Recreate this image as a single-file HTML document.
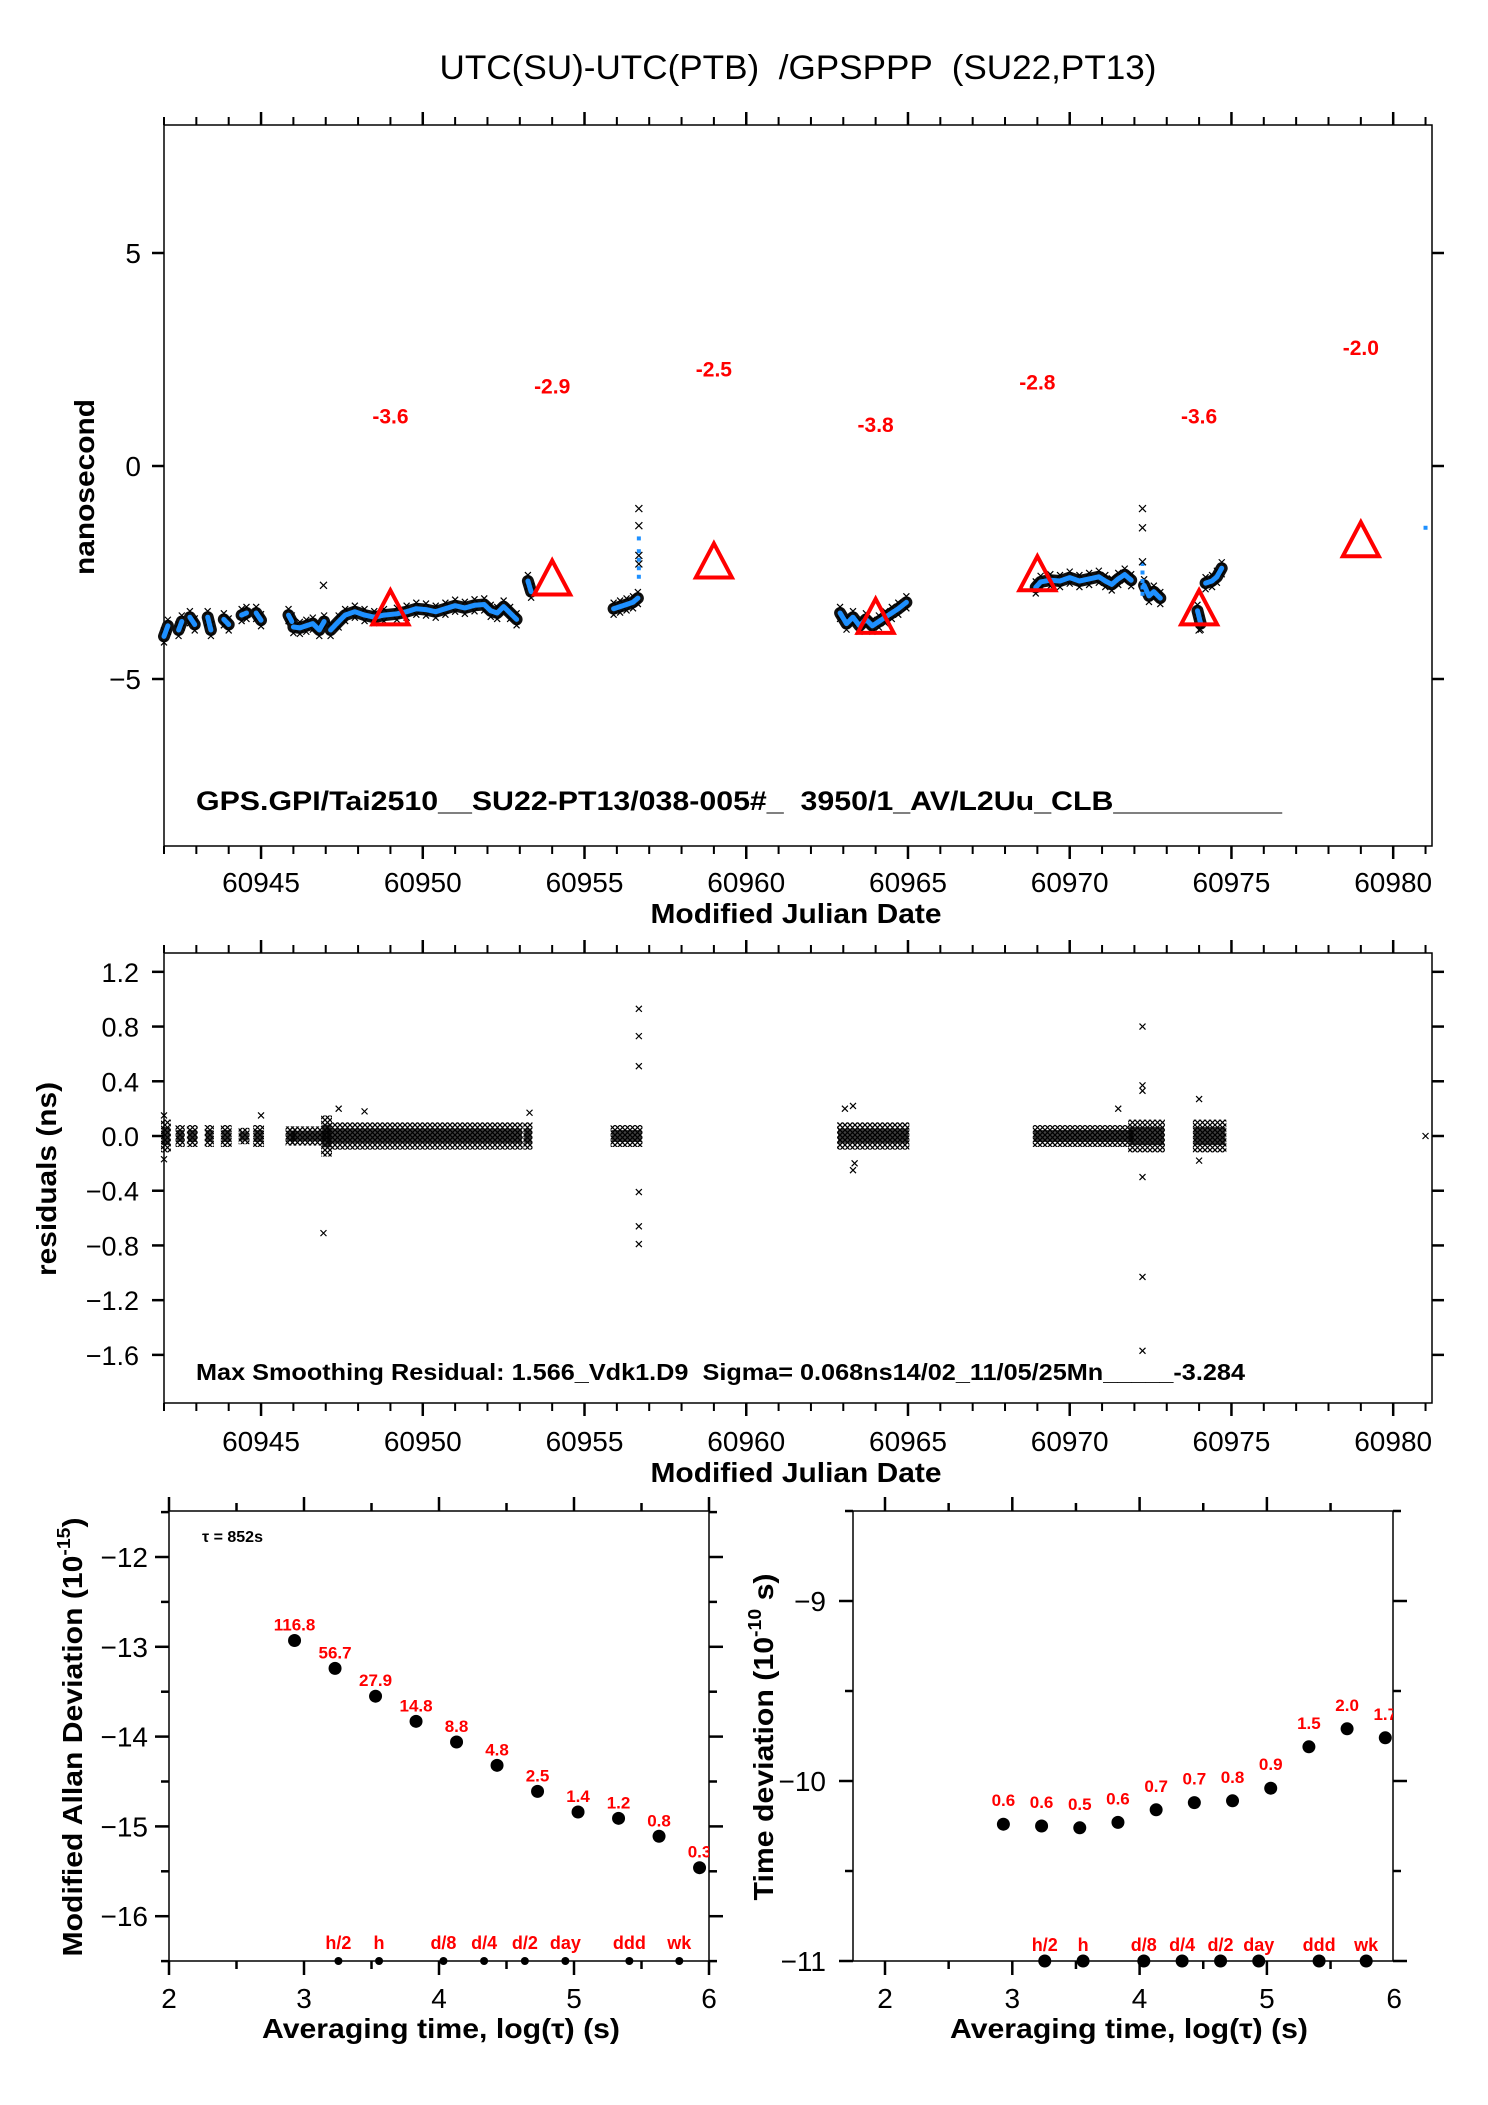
<!DOCTYPE html>
<html><head><meta charset="utf-8"><title>UTC(SU)-UTC(PTB) GPSPPP</title>
<style>
html,body{margin:0;padding:0;background:#fff;}
svg{display:block;font-family:"Liberation Sans",Arial,sans-serif;}
text{white-space:pre;}
</style></head>
<body>
<svg id="fig" width="1488" height="2105" viewBox="0 0 1488 2105" xmlns="http://www.w3.org/2000/svg">
<defs id="defs">
<pattern id="xpat" width="5" height="5" patternUnits="userSpaceOnUse">
<path d="M0,0L5,5M5,0L0,5" stroke="#000" stroke-width="1.3"/>
</pattern>
</defs>
<text x="798" y="79" font-size="34" text-anchor="middle" textLength="717" lengthAdjust="spacingAndGlyphs">UTC(SU)-UTC(PTB)  /GPSPPP  (SU22,PT13)</text>
<g id="topPanel"></g>
<g id="midPanel"></g>
<g id="adevPanel"></g>
<g id="tdevPanel"></g>
</svg>
<script>
// ---------- data ----------
const triMjd = [60949, 60954, 60959, 60964, 60969, 60974, 60979];
const triVal = [-3.6, -2.9, -2.5, -3.8, -2.8, -3.6, -2.0];
const triLabels = ["-3.6", "-2.9", "-2.5", "-3.8", "-2.8", "-3.6", "-2.0"];

const segMjd = [
 [60942.0, 60942.12],
 [60942.45, 60942.55],
 [60942.8, 60942.95],
 [60943.35, 60943.45],
 [60943.85, 60944.0],
 [60944.4, 60944.55],
 [60944.85, 60945.0],
 [60945.85, 60945.95],
 [60946.0, 60946.2, 60946.4, 60946.6, 60946.8, 60946.95],
 [60947.15, 60947.4, 60947.6, 60947.9, 60948.2, 60948.5, 60948.8, 60949.2, 60949.5, 60949.8, 60950.1, 60950.4, 60950.7, 60951.0, 60951.3, 60951.6, 60951.9, 60952.1, 60952.3, 60952.5, 60952.7, 60952.9],
 [60953.25, 60953.35],
 [60955.9, 60956.1, 60956.3, 60956.5, 60956.65],
 [60962.9, 60963.1, 60963.3, 60963.5, 60963.7, 60963.9, 60964.1, 60964.3, 60964.5, 60964.7, 60964.95],
 [60968.95, 60969.1, 60969.4, 60969.7, 60970.0, 60970.3, 60970.6, 60970.9, 60971.1, 60971.3, 60971.5, 60971.7, 60971.9],
 [60972.3, 60972.45, 60972.6, 60972.8],
 [60973.95, 60974.05],
 [60974.2, 60974.4, 60974.55, 60974.7]
];
const segVal = [
 [-4.0, -3.75],
 [-3.85, -3.65],
 [-3.55, -3.72],
 [-3.55, -3.85],
 [-3.6, -3.72],
 [-3.5, -3.45],
 [-3.45, -3.62],
 [-3.5, -3.65],
 [-3.78, -3.8, -3.75, -3.7, -3.85, -3.65],
 [-3.85, -3.65, -3.5, -3.42, -3.5, -3.55, -3.5, -3.47, -3.42, -3.35, -3.37, -3.42, -3.35, -3.28, -3.33, -3.27, -3.25, -3.4, -3.45, -3.3, -3.45, -3.6],
 [-2.7, -2.95],
 [-3.35, -3.3, -3.25, -3.2, -3.1],
 [-3.45, -3.7, -3.55, -3.75, -3.6, -3.75, -3.65, -3.55, -3.45, -3.35, -3.2],
 [-2.85, -2.72, -2.68, -2.7, -2.62, -2.7, -2.65, -2.6, -2.7, -2.78, -2.65, -2.55, -2.68],
 [-2.8, -3.05, -2.95, -3.1],
 [-3.4, -3.7],
 [-2.75, -2.7, -2.6, -2.4]
];
const blueDotMjd = [60956.68, 60956.68, 60956.68, 60956.68, 60956.68, 60972.25, 60972.25, 60972.25, 60972.25, 60972.25, 60981.0];
const blueDotVal = [-1.7, -2.0, -2.2, -2.4, -2.6, -2.3, -2.5, -2.7, -2.85, -3.0, -1.45];
const outMjd = [60946.93, 60956.68, 60956.68, 60956.68, 60956.68, 60972.25, 60972.25, 60972.25, 60974.0];
const outVal = [-2.8, -1.0, -1.4, -2.1, -2.3, -1.0, -1.45, -2.25, -3.85];

const resClStart = [60942.0, 60942.45, 60942.8, 60943.35, 60943.85, 60944.4, 60944.85, 60945.85, 60946.0, 60946.95, 60947.1, 60953.2, 60955.9, 60962.9, 60968.95, 60971.9, 60973.9];
const resClEnd   = [60942.12, 60942.55, 60942.95, 60943.45, 60944.0, 60944.55, 60945.0, 60946.0, 60946.95, 60947.1, 60953.0, 60953.3, 60956.7, 60964.95, 60971.9, 60972.85, 60974.75];
const resClSpread= [0.12, 0.08, 0.08, 0.08, 0.08, 0.06, 0.08, 0.07, 0.07, 0.15, 0.1, 0.1, 0.08, 0.1, 0.08, 0.12, 0.12];
const resOutMjd = [60946.93, 60956.68, 60956.68, 60956.68, 60956.68, 60956.68, 60956.68, 60972.25, 60972.25, 60972.25, 60972.25, 60972.25, 60972.25, 60963.3, 60963.3, 60963.35, 60974.0, 60974.0, 60953.3, 60981.0, 60942.0, 60942.0, 60945.0, 60971.5, 60947.4, 60948.2, 60963.05];
const resOutVal = [-0.71, 0.93, 0.73, 0.51, -0.41, -0.66, -0.79, 0.80, 0.37, 0.33, -0.30, -1.03, -1.57, 0.22, -0.25, -0.2, 0.27, -0.18, 0.17, 0.0, 0.15, -0.17, 0.15, 0.2, 0.2, 0.18, 0.2];

const logTau = [2.93, 3.23, 3.53, 3.83, 4.13, 4.43, 4.73, 5.03, 5.33, 5.63, 5.93];
const adevVal = [-12.93, -13.24, -13.55, -13.83, -14.06, -14.32, -14.61, -14.84, -14.91, -15.11, -15.46];
const adevLabels = ["116.8", "56.7", "27.9", "14.8", "8.8", "4.8", "2.5", "1.4", "1.2", "0.8", "0.3"];
const tdevVal = [-10.24, -10.25, -10.26, -10.23, -10.16, -10.12, -10.11, -10.04, -9.81, -9.71, -9.76];
const tdevLabels = ["0.6", "0.6", "0.5", "0.6", "0.7", "0.7", "0.8", "0.9", "1.5", "2.0", "1.7"];
const markNames = ["h/2", "h", "d/8", "d/4", "d/2", "day", "ddd", "wk"];
const markLog = [3.255, 3.556, 4.033, 4.334, 4.636, 4.936, 5.41, 5.78];

const mjdTicks = [60945, 60950, 60955, 60960, 60965, 60970, 60975, 60980];
const topYTicks = [5, 0, -5];
const resYTicks = [1.2, 0.8, 0.4, 0.0, -0.4, -0.8, -1.2, -1.6];
const logTicks = [2, 3, 4, 5, 6];
const adevYTicks = [-12, -13, -14, -15, -16];
const tdevYTicks = [-9, -10, -11];

// ---------- helpers ----------
const NS = "http://www.w3.org/2000/svg";
function mk(parent, tag, attrs, text) {
  const e = document.createElementNS(NS, tag);
  for (const k in attrs) e.setAttribute(k, attrs[k]);
  if (text !== undefined) e.textContent = text;
  parent.appendChild(e);
  return e;
}
const fmtMinus = s => String(s).replace("-", "\u2212");

const X0 = 164, X1 = 1432, M0 = 60942, M1 = 60981.2;
const xT = m => X0 + (m - M0) * (X1 - X0) / (M1 - M0);
const yT = v => 466 - v * 42.6;
const yM = v => 1136 - v * 136.8;
const xL = l => 169 + (l - 2) * 135;
const yL = v => 1557 - (v + 12) * 89.8;
const xR = l => 885 + (l - 2) * 127.3;
const yR = v => 1961 - (v + 11) * 180;

function frame(g, x0, y0, x1, y1, name) {
  const r = mk(g, "rect", {x: x0, y: y0, width: x1 - x0, height: y1 - y0, fill: "none", stroke: "#000", "stroke-width": 1.5});
  
  
}
function mjdAxis(g, yTop, yBot, labelY, titleY, prefix) {
  for (let m = 60942; m <= 60981; m++) {
    const x = xT(m), major = (m % 5 === 0);
    const len = major ? 13 : 8;
    mk(g, "line", {x1: x, y1: yTop, x2: x, y2: yTop - len, stroke: "#000", "stroke-width": major ? 2.5 : 2});
    mk(g, "line", {x1: x, y1: yBot, x2: x, y2: yBot + len, stroke: "#000", "stroke-width": major ? 2.5 : 2});
  }
  mjdTicks.forEach(m => {
    const t = mk(g, "text", {x: xT(m), y: labelY, "font-size": 28, "text-anchor": "middle"}, String(m));
    
    
  });
  const tt = mk(g, "text", {x: 796, y: titleY, "font-size": 28, "font-weight": "bold", "text-anchor": "middle", textLength: 291, lengthAdjust: "spacingAndGlyphs"}, "Modified Julian Date");
  
  
}
function xmark(g, x, y, s, w) {
  mk(g, "path", {d: `M${x - s},${y - s}L${x + s},${y + s}M${x + s},${y - s}L${x - s},${y + s}`, stroke: "#000", "stroke-width": w || 1.2, fill: "none"});
}

// ---------- top panel ----------
const topG = document.getElementById("topPanel");
frame(topG, X0, 125, X1, 846, "time-series-plot-area");
mjdAxis(topG, 125, 846, 892, 923, "top");
topYTicks.forEach(v => {
  const y = yT(v);
  mk(topG, "line", {x1: X0, y1: y, x2: X0 - 12, y2: y, stroke: "#000", "stroke-width": 2.5});
  mk(topG, "line", {x1: X1, y1: y, x2: X1 + 12, y2: y, stroke: "#000", "stroke-width": 2.5});
  const t = mk(topG, "text", {x: 141, y: y + 10, "font-size": 28, "text-anchor": "end"}, fmtMinus(v));
  
  
});
{
  const t = mk(topG, "text", {x: 0, y: 0, "font-size": 28, "font-weight": "bold", "text-anchor": "middle", textLength: 176, lengthAdjust: "spacingAndGlyphs", transform: "translate(94,487) rotate(-90)"}, "nanosecond");
  
  
}
segMjd.forEach((ms, i) => {
  const pts = ms.map((m, j) => xT(m).toFixed(1) + "," + yT(segVal[i][j]).toFixed(1)).join(" ");
  const band = mk(topG, "polyline", {points: pts, fill: "none", stroke: "#111", "stroke-width": 12, "stroke-linecap": "round", "stroke-linejoin": "round"});
  
  
  ms.forEach((m, j) => { xmark(topG, xT(m), yT(segVal[i][j]) - 6, 3); xmark(topG, xT(m), yT(segVal[i][j]) + 6, 3); });
});
segMjd.forEach((ms, i) => {
  const pts = ms.map((m, j) => xT(m).toFixed(1) + "," + yT(segVal[i][j]).toFixed(1)).join(" ");
  const line = mk(topG, "polyline", {points: pts, fill: "none", stroke: "#1E90FF", "stroke-width": 5, "stroke-linecap": "round", "stroke-linejoin": "round"});
  
  
});
blueDotMjd.forEach((m, i) => {
  const d = mk(topG, "rect", {x: xT(m) - 2, y: yT(blueDotVal[i]) - 2, width: 4, height: 4, fill: "#1E90FF"});
  
  
});
outMjd.forEach((m, i) => xmark(topG, xT(m), yT(outVal[i]), 3.5));
triMjd.forEach((m, i) => {
  const x = xT(m), y = yT(triVal[i]);
  const tri = mk(topG, "polygon", {points: `${x},${y - 29} ${x - 18},${y + 5} ${x + 18},${y + 5}`, fill: "none", stroke: "#FF0000", "stroke-width": 4});
  
  
  const t = mk(topG, "text", {x: x, y: yT(triVal[i] + 4.6), "font-size": 21, "font-weight": "bold", fill: "#FF0000", "text-anchor": "middle"}, triLabels[i]);
  
  
});
{
  const t = mk(topG, "text", {x: 196, y: 810, "font-size": 27, "font-weight": "bold", textLength: 1086, lengthAdjust: "spacingAndGlyphs"}, "GPS.GPI/Tai2510__SU22-PT13/038-005#_  3950/1_AV/L2Uu_CLB__________");
  
  
}

// ---------- middle panel ----------
const midG = document.getElementById("midPanel");
frame(midG, X0, 953, X1, 1403, "residuals-plot-area");
mjdAxis(midG, 953, 1403, 1451, 1482, "mid");
resYTicks.forEach(v => {
  const y = yM(v);
  mk(midG, "line", {x1: X0, y1: y, x2: X0 - 12, y2: y, stroke: "#000", "stroke-width": 2.5});
  mk(midG, "line", {x1: X1, y1: y, x2: X1 + 12, y2: y, stroke: "#000", "stroke-width": 2.5});
  const t = mk(midG, "text", {x: 139, y: y + 10, "font-size": 27, "text-anchor": "end"}, fmtMinus(v.toFixed(1)));
  
  
});
{
  const t = mk(midG, "text", {x: 0, y: 0, "font-size": 28, "font-weight": "bold", "text-anchor": "middle", textLength: 194, lengthAdjust: "spacingAndGlyphs", transform: "translate(56,1179) rotate(-90)"}, "residuals (ns)");
  
  
}
resClStart.forEach((s, i) => {
  const x0 = xT(s) - 3, x1 = xT(resClEnd[i]) + 3;
  const y0 = yM(resClSpread[i]), y1 = yM(-resClSpread[i]);
  const r = mk(midG, "rect", {x: x0, y: y0, width: x1 - x0, height: y1 - y0, fill: "url(#xpat)"});
  
  
  mk(midG, "rect", {x: x0 + 1, y: yM(resClSpread[i] * 0.55), width: Math.max(1, x1 - x0 - 2), height: yM(-resClSpread[i] * 0.55) - yM(resClSpread[i] * 0.55), fill: "#000", opacity: 0.75});
});
resOutMjd.forEach((m, i) => xmark(midG, xT(m), yM(resOutVal[i]), 3));
{
  const t = mk(midG, "text", {x: 196, y: 1380, "font-size": 23, "font-weight": "bold", textLength: 1049, lengthAdjust: "spacingAndGlyphs"}, "Max Smoothing Residual: 1.566_Vdk1.D9  Sigma= 0.068ns14/02_11/05/25Mn_____-3.284");
  
  
}

// ---------- bottom panels ----------
function logAxis(g, xs, x0, x1, yTop, yBot, prefix, titleX) {
  for (let l = 2; l <= 6.001; l += 0.5) {
    const x = xs(l); if (x < x0 - 1 || x > x1 + 1) continue;
    const major = Math.abs(l - Math.round(l)) < 1e-6, len = major ? 14 : 8;
    mk(g, "line", {x1: x, y1: yTop, x2: x, y2: yTop - len, stroke: "#000", "stroke-width": 2.5});
    mk(g, "line", {x1: x, y1: yBot, x2: x, y2: yBot + len, stroke: "#000", "stroke-width": 2.5});
  }
  logTicks.forEach(l => {
    const t = mk(g, "text", {x: xs(l), y: 2008, "font-size": 28, "text-anchor": "middle"}, String(l));
    
    
  });
  const tt = mk(g, "text", {x: titleX, y: 2038, "font-size": 28, "font-weight": "bold", "text-anchor": "middle", textLength: 358, lengthAdjust: "spacingAndGlyphs"}, "Averaging time, log(\u03C4) (s)");
  
  
}
function yTicksHalf(g, ys, vals, lo, hi, x0, x1, prefix, labelX) {
  for (let v = lo; v <= hi + 1e-6; v += 0.5) {
    const y = ys(v), major = Math.abs(v - Math.round(v)) < 1e-6, len = major ? 14 : 8;
    mk(g, "line", {x1: x0, y1: y, x2: x0 - len, y2: y, stroke: "#000", "stroke-width": 2.5});
    mk(g, "line", {x1: x1, y1: y, x2: x1 + len, y2: y, stroke: "#000", "stroke-width": 2.5});
  }
  vals.forEach(v => {
    const t = mk(g, "text", {x: labelX, y: ys(v) + 10, "font-size": 28, "text-anchor": "end"}, fmtMinus(v));
    
    
  });
}
const defsEl = document.getElementById("defs");

const adevG = document.getElementById("adevPanel");
frame(adevG, 169, 1511, 709, 1961, "adev-plot-area");
logAxis(adevG, xL, 169, 709, 1511, 1961, "adev", 441);
yTicksHalf(adevG, yL, adevYTicks, -16.5, -11.5, 169, 709, "adev", 148);
{
  const t = mk(adevG, "text", {x: 0, y: 0, "font-size": 28, "font-weight": "bold", "text-anchor": "middle", textLength: 439, lengthAdjust: "spacingAndGlyphs", transform: "translate(82,1737) rotate(-90)"});
  
  
  t.textContent = "Modified Allan Deviation (10";
  mk(t, "tspan", {"font-size": 18, dy: -12}, "-15");
  mk(t, "tspan", {dy: 12}, ")");
}
{
  const t = mk(adevG, "text", {x: 202, y: 1542, "font-size": 16, "font-weight": "bold"}, "\u03C4 = 852s");
  
  
}
const clipL = mk(defsEl, "clipPath", {id: "clipL"});
mk(clipL, "rect", {x: 169, y: 1500, width: 540, height: 480});
const adevPts = mk(adevG, "g", {"clip-path": "url(#clipL)"});
logTau.forEach((l, i) => {
  const c = mk(adevPts, "circle", {cx: xL(l), cy: yL(adevVal[i]), r: 6.5, fill: "#000"});
  
  
  const t = mk(adevPts, "text", {x: xL(l), y: yL(adevVal[i]) - 10, "font-size": 17, "font-weight": "bold", fill: "#FF0000", "text-anchor": "middle"}, adevLabels[i]);
  
  
});
markLog.forEach((l, i) => {
  const c = mk(adevG, "circle", {cx: xL(l), cy: 1961, r: 4, fill: "#000"});
  
  
  const t = mk(adevG, "text", {x: xL(l), y: 1949, "font-size": 18, "font-weight": "bold", fill: "#FF0000", "text-anchor": "middle"}, markNames[i]);
  
  
});

const tdevG = document.getElementById("tdevPanel");
frame(tdevG, 853, 1511, 1393, 1961, "tdev-plot-area");
logAxis(tdevG, xR, 853, 1393, 1511, 1961, "tdev", 1129);
yTicksHalf(tdevG, yR, tdevYTicks, -11, -8.5, 853, 1393, "tdev", 826);
{
  const t = mk(tdevG, "text", {x: 0, y: 0, "font-size": 28, "font-weight": "bold", "text-anchor": "middle", textLength: 327, lengthAdjust: "spacingAndGlyphs", transform: "translate(773,1737) rotate(-90)"});
  
  
  t.textContent = "Time deviation (10";
  mk(t, "tspan", {"font-size": 18, dy: -12}, "-10");
  mk(t, "tspan", {dy: 12}, " s)");
}
const clipR = mk(defsEl, "clipPath", {id: "clipR"});
mk(clipR, "rect", {x: 853, y: 1500, width: 540, height: 480});
const tdevPts = mk(tdevG, "g", {"clip-path": "url(#clipR)"});
logTau.forEach((l, i) => {
  const c = mk(tdevPts, "circle", {cx: xR(l), cy: yR(tdevVal[i]), r: 6.5, fill: "#000"});
  
  
  const t = mk(tdevPts, "text", {x: xR(l), y: yR(tdevVal[i]) - 18, "font-size": 17, "font-weight": "bold", fill: "#FF0000", "text-anchor": "middle"}, tdevLabels[i]);
  
  
});
markLog.forEach((l, i) => {
  const c = mk(tdevG, "circle", {cx: xR(l), cy: 1961, r: 6.5, fill: "#000"});
  
  
  const t = mk(tdevG, "text", {x: xR(l), y: 1951, "font-size": 18, "font-weight": "bold", fill: "#FF0000", "text-anchor": "middle"}, markNames[i]);
  
  
});
</script>
</body></html>
